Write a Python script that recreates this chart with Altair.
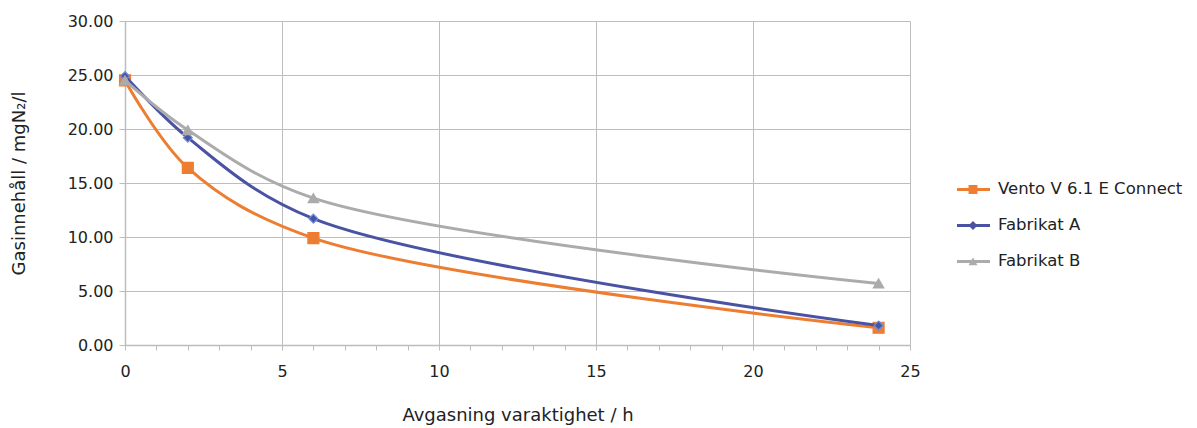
import altair as alt
import pandas as pd

# ---- data ----
series = ["Vento V 6.1 E Connect", "Fabrikat A", "Fabrikat B"]
hours = [0, 2, 6, 24]
vento = [24.5, 16.4, 9.9, 1.6]
fabrikat_a = [24.9, 19.2, 11.7, 1.8]
fabrikat_b = [24.5, 19.9, 13.6, 5.7]
colors = ["#ED7D31", "#4A53A3", "#ABABAB"]
marker_strokes = ["#ED7D31", "#6A8FD8", "#ABABAB"]
shapes = ["square", "diamond", "triangle-up"]
marker_sizes = [120, 80, 110]
x_ticks = list(range(0, 26))
y_ticks = [0, 5, 10, 15, 20, 25, 30]
legend_idx = [0, 1, 2]

FONT = "DejaVu Sans"

rows = []
for s, vals in zip(series, [vento, fabrikat_a, fabrikat_b]):
    for h, v in zip(hours, vals):
        rows.append({"series": s, "h": h, "v": v})
df = pd.DataFrame(rows)

x_enc = alt.X(
    "h:Q",
    scale=alt.Scale(domain=[0, 25], nice=False),
    axis=alt.Axis(
        title="Avgasning varaktighet / h",
        values=x_ticks,
        labelExpr="datum.value % 5 === 0 ? datum.label : ''",
        gridOpacity={"condition": {"test": "datum.value % 5 === 0", "value": 1}, "value": 0},
        labelFlush=False,
        tickSize=5,
        labelPadding=13,
        titlePadding=27,
    ),
)
y_enc = alt.Y(
    "v:Q",
    scale=alt.Scale(domain=[0, 30], nice=False),
    axis=alt.Axis(
        title="Gasinnehåll / mgN₂/l",
        values=y_ticks,
        format=".2f",
        tickSize=6,
        labelPadding=6,
        titlePadding=39,
    ),
)

layers = []
for i, s in enumerate(series):
    d = df[df.series == s]
    line = alt.Chart(d).mark_line(
        interpolate="catmull-rom", color=colors[i], strokeWidth=3
    ).encode(x=x_enc, y=y_enc)
    pts = alt.Chart(d).mark_point(
        shape=shapes[i], filled=True, fill=colors[i], stroke=marker_strokes[i],
        strokeWidth=1.2, opacity=1, size=marker_sizes[i]
    ).encode(x=x_enc, y=y_enc)
    layers += [line, pts]

main = alt.layer(*layers).properties(width=785, height=324)

# ---- manual legend (line + marker + label) ----
leg_df = pd.DataFrame({"idx": legend_idx, "series": series})
ly = alt.Y("idx:Q", scale=alt.Scale(domain=[-4.68, 4.32], reverse=True), axis=None)
col_scale = alt.Scale(domain=series, range=colors)
shape_scale = alt.Scale(domain=series, range=shapes)
leg_rule = alt.Chart(leg_df).mark_rule(strokeWidth=3).encode(
    x=alt.value(36), x2=alt.value(69), y=ly,
    color=alt.Color("series:N", scale=col_scale, legend=None),
)
leg_pts = alt.Chart(leg_df).mark_point(filled=True, opacity=1, size=80).encode(
    x=alt.value(52), y=ly,
    color=alt.Color("series:N", scale=col_scale, legend=None),
    shape=alt.Shape("series:N", scale=shape_scale, legend=None),
)
leg_txt = alt.Chart(leg_df).mark_text(
    align="left", baseline="middle", font=FONT, fontSize=16.5, color="#222222"
).encode(x=alt.value(77), y=ly, text="series:N")
legend = alt.layer(leg_rule, leg_pts, leg_txt).properties(width=180, height=324)

chart = alt.hconcat(main, legend, spacing=0).properties(
    padding={"left": 2, "top": 5, "right": 0, "bottom": 5}
).configure_view(stroke=None).configure_axis(
    labelFont=FONT, titleFont=FONT, labelFontSize=16, titleFontSize=18,
    labelColor="#222222", titleColor="#222222", titleFontWeight="normal",
    gridColor="#BDBDBD", domainColor="#BDBDBD", tickColor="#BDBDBD",
    gridWidth=1, domainWidth=1.5,
)

chart.save("out.html", embed_options={"renderer": "svg", "actions": False})
